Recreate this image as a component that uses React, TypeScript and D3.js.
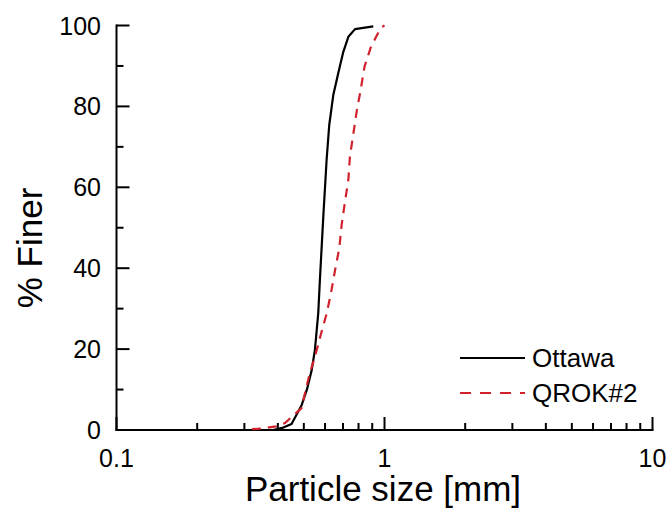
import React from "react";
import * as d3 from "d3";

const ottawaSize = [0.1, 0.384, 0.419, 0.45, 0.491, 0.513, 0.535, 0.55, 0.566, 0.574, 0.591, 0.608, 0.622, 0.644, 0.672, 0.702, 0.733, 0.776, 0.908];
const ottawaFiner = [0, 0, 0.6, 1.5, 6.2, 9.9, 14.8, 19.8, 28.9, 37.1, 52.7, 66.7, 75.4, 82.8, 88.2, 93.5, 97.2, 99.1, 99.8];

const qrokSize = [0.32, 0.352, 0.394, 0.425, 0.49, 0.524, 0.55, 0.578, 0.608, 0.632, 0.655, 0.678, 0.692, 0.712, 0.733, 0.743, 0.788, 0.815, 0.842, 0.891, 0.97, 1.0];
const qrokFiner = [0.2, 0.4, 0.9, 1.7, 5.4, 13.6, 18.1, 23.5, 28.7, 34.0, 39.8, 44.9, 50.7, 56.4, 61.8, 67.6, 78.9, 84.1, 89.8, 94.8, 99.5, 100];

const xMajorTicks = [0.1, 1, 10];
const xTickLabels = ["0.1", "1", "10"];
const yMajorTicks = [0, 20, 40, 60, 80, 100];
const yMinorTicks = [10, 30, 50, 70, 90];
const seriesNames = ["Ottawa", "QROK#2"];

const W = 672;
const H = 512;
const FONT = "Arial, 'Liberation Sans', sans-serif";
const RED = "#d0222c";

export default function App() {
  const x = d3.scaleLog().domain([0.1, 10]).range([116.5, 652.5]);
  const y = d3.scaleLinear().domain([0, 100]).range([430, 25.5]);

  const xMinor: number[] = [];
  for (const dec of [0.1, 1]) {
    for (let k = 2; k <= 9; k++) xMinor.push(dec * k);
  }

  const line = d3
    .line<[number, number]>()
    .x((d) => x(d[0]))
    .y((d) => y(d[1]));

  const ottawa = ottawaSize.map((s, i) => [s, ottawaFiner[i]] as [number, number]);
  const qrok = qrokSize.map((s, i) => [s, qrokFiner[i]] as [number, number]);

  const x0 = x.range()[0];
  const x1 = x.range()[1];
  const y0 = y.range()[0];
  const y1 = y.range()[1];

  return (
    <svg
      width={W}
      height={H}
      style={{ position: "absolute", left: 0, top: 0, background: "#fff" }}
      fontFamily={FONT}
    >
      <rect x={0} y={0} width={W} height={H} fill="#fff" />
      {/* axes */}
      <line x1={x0} x2={x0} y1={y0 + 1} y2={y1 - 1} stroke="#000" strokeWidth={2} />
      <line x1={x0 - 1} x2={x1 + 1} y1={y0} y2={y0} stroke="#000" strokeWidth={2} />

      {/* data */}
      <path d={line(ottawa) || ""} fill="none" stroke="#000" strokeWidth={2.2} strokeLinejoin="round" />
      <path d={line(qrok) || ""} fill="none" stroke={RED} strokeWidth={2.2} strokeDasharray="9,7" />

      {yMajorTicks.map((t) => (
        <g key={"ym" + t}>
          <line x1={x0} x2={x0 + 13} y1={y(t)} y2={y(t)} stroke="#000" strokeWidth={2} />
          <text x={101} y={y(t)} dy="0.36em" textAnchor="end" fontSize={25}>
            {t}
          </text>
        </g>
      ))}
      {yMinorTicks.map((t) => (
        <line key={"yn" + t} x1={x0} x2={x0 + 7} y1={y(t)} y2={y(t)} stroke="#000" strokeWidth={2} />
      ))}
      {xMajorTicks.map((t, i) => (
        <g key={"xm" + t}>
          <line x1={x(t)} x2={x(t)} y1={y0} y2={y0 - 13} stroke="#000" strokeWidth={2} />
          <text x={x(t)} y={467} textAnchor="middle" fontSize={25}>
            {xTickLabels[i]}
          </text>
        </g>
      ))}
      {xMinor.map((t) => (
        <line key={"xn" + t} x1={x(t)} x2={x(t)} y1={y0} y2={y0 - 7} stroke="#000" strokeWidth={2} />
      ))}

      {/* axis titles */}
      <text x={383} y={501} textAnchor="middle" fontSize={35}>
        Particle size [mm]
      </text>
      <text transform="translate(42,248) rotate(-90)" textAnchor="middle" fontSize={35}>
        % Finer
      </text>

      {/* legend */}
      <line x1={460} x2={525} y1={358} y2={358} stroke="#000" strokeWidth={2.2} />
      <text x={532} y={367} fontSize={26}>
        {seriesNames[0]}
      </text>
      <line x1={460} x2={525} y1={393} y2={393} stroke={RED} strokeWidth={2.2} strokeDasharray="11,9" />
      <text x={532} y={402} fontSize={26}>
        {seriesNames[1]}
      </text>
    </svg>
  );
}
